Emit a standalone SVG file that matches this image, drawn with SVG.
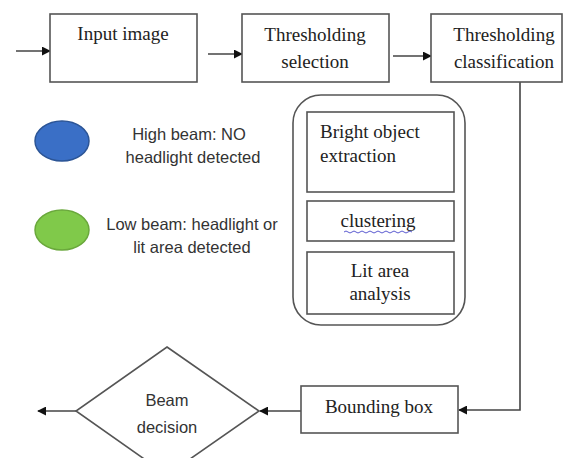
<svg xmlns="http://www.w3.org/2000/svg" width="566" height="458" viewBox="0 0 566 458">
  <defs>
    <marker id="arrow" viewBox="0 0 10 10" refX="9" refY="5" markerWidth="9" markerHeight="9" markerUnits="userSpaceOnUse" orient="auto">
      <path d="M0,0 L10,5 L0,10 z" fill="#111"/>
    </marker>
  </defs>
  <style>
    .box { fill: #fff; stroke: #555; stroke-width: 1.6; }
    .line { fill: none; stroke: #444; stroke-width: 1.6; }
    .serif { font-family: "Liberation Serif", "Times New Roman", serif; font-size: 19px; fill: #222; }
    .sans { font-family: "Liberation Sans", Arial, sans-serif; font-size: 16.5px; fill: #333; }
  </style>
  <rect x="0" y="0" width="566" height="458" fill="#fff"/>

  <g id="connectors">
    <line class="line" x1="16" y1="51" x2="50" y2="51" marker-end="url(#arrow)"/>
    <line class="line" x1="208" y1="54" x2="242" y2="54" marker-end="url(#arrow)"/>
    <line class="line" x1="393" y1="56" x2="431" y2="56" marker-end="url(#arrow)"/>
    <polyline class="line" points="520,82 520,410 459,410" marker-end="url(#arrow)"/>
    <line class="line" x1="301" y1="411" x2="260" y2="411" marker-end="url(#arrow)"/>
    <line class="line" x1="76" y1="411" x2="38" y2="411" marker-end="url(#arrow)"/>
  </g>

  <g id="input-image">
    <rect class="box" x="50" y="14" width="147" height="68"/>
    <text class="serif" x="123" y="40" text-anchor="middle">Input image</text>
  </g>

  <g id="thresholding-selection">
    <rect class="box" x="242" y="14" width="147" height="68"/>
    <text class="serif" x="315" y="41" text-anchor="middle">Thresholding</text>
    <text class="serif" x="315" y="68" text-anchor="middle">selection</text>
  </g>

  <g id="thresholding-classification">
    <rect class="box" x="431" y="14" width="131" height="68"/>
    <text class="serif" x="504" y="41" text-anchor="middle">Thresholding</text>
    <text class="serif" x="504" y="68" text-anchor="middle">classification</text>
  </g>

  <g id="legend-high-beam">
    <ellipse cx="62" cy="141" rx="27" ry="20" fill="#3a6fc6" stroke="#2c5596" stroke-width="1.5"/>
    <text class="sans" x="189" y="140" text-anchor="middle">High beam: NO</text>
    <text class="sans" x="193" y="163" text-anchor="middle">headlight detected</text>
  </g>

  <g id="legend-low-beam">
    <ellipse cx="62" cy="230" rx="27" ry="20" fill="#80c94a" stroke="#6aa83c" stroke-width="1.5"/>
    <text class="sans" x="192" y="230" text-anchor="middle">Low beam: headlight or</text>
    <text class="sans" x="192" y="253" text-anchor="middle">lit area detected</text>
  </g>

  <g id="processing-group">
    <rect class="box" x="293" y="95" width="172" height="230" rx="28" ry="28"/>
  </g>

  <g id="bright-object-extraction">
    <rect class="box" x="307" y="112" width="147" height="80"/>
    <text class="serif" x="320" y="138">Bright object</text>
    <text class="serif" x="320" y="162">extraction</text>
  </g>

  <g id="clustering">
    <rect class="box" x="307" y="201" width="147" height="40"/>
    <text class="serif" x="378" y="227" text-anchor="middle" fill="#2a2a4a">clustering</text>
    <path d="M344,232 q2,-2 4,0 t4,0 t4,0 t4,0 t4,0 t4,0 t4,0 t4,0 t4,0 t4,0 t4,0 t4,0 t4,0 t4,0 t4,0 t4,0 t4,0" fill="none" stroke="#5a5ad0" stroke-width="1"/>
  </g>

  <g id="lit-area-analysis">
    <rect class="box" x="307" y="252" width="147" height="62"/>
    <text class="serif" x="380" y="277" text-anchor="middle">Lit area</text>
    <text class="serif" x="380" y="300" text-anchor="middle">analysis</text>
  </g>

  <g id="bounding-box">
    <rect class="box" x="301" y="386" width="157" height="47"/>
    <text class="serif" x="379" y="413" text-anchor="middle">Bounding box</text>
  </g>

  <g id="beam-decision">
    <polygon class="box" points="167,347 259,411 167,475 76,411"/>
    <text class="sans" x="167" y="406" text-anchor="middle">Beam</text>
    <text class="sans" x="167" y="433" text-anchor="middle">decision</text>
  </g>
</svg>
